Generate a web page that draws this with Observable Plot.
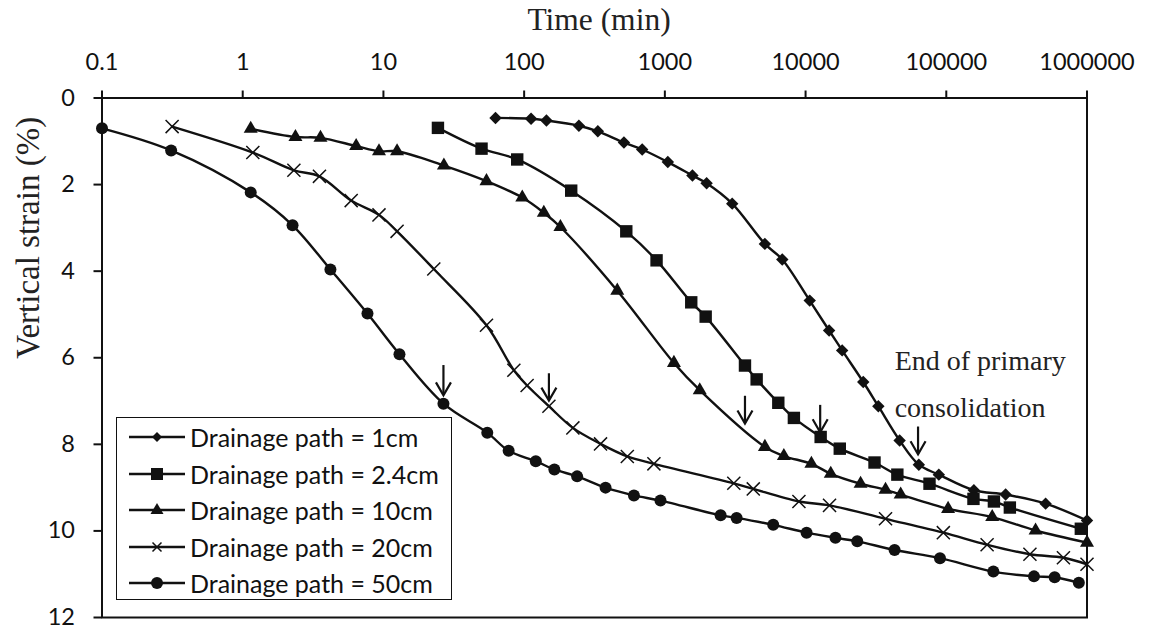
<!DOCTYPE html>
<html><head><meta charset="utf-8">
<script src="https://cdn.jsdelivr.net/npm/d3@7"></script>
<script src="https://cdn.jsdelivr.net/npm/@observablehq/plot@0.6"></script>
<style>
body{margin:0;background:#fff;}
#wrap{position:relative;width:1152px;height:632px;}
#legend{position:absolute;left:116px;top:417px;width:334px;height:181px;border:1.8px solid #111;background:#fff;font-family:Lato,sans-serif;font-size:25px;color:#111;}
.row{position:absolute;left:0;height:36px;display:flex;align-items:center;white-space:nowrap;}
.row svg{margin-left:12px;margin-right:5px;}
</style></head>
<body><div id="wrap"></div>
<script>
// ---- data ----
const seriesNames = ["Drainage path = 1cm", "Drainage path = 2.4cm", "Drainage path = 10cm", "Drainage path = 20cm", "Drainage path = 50cm"];

const time1 = [62.6, 112, 144, 245, 334, 512, 690, 1050, 1570, 1980, 3010, 5140, 6830, 10700, 14700, 18200, 25700, 32900, 46600, 63800, 88500, 157000, 264000, 508000, 1000000];
const strain1 = [0.46, 0.48, 0.52, 0.64, 0.77, 1.03, 1.19, 1.48, 1.79, 1.97, 2.44, 3.37, 3.73, 4.68, 5.37, 5.83, 6.56, 7.12, 7.91, 8.47, 8.70, 9.06, 9.16, 9.37, 9.76];

const time24 = [24.4, 49.8, 89.3, 216, 532, 873, 1540, 1950, 3710, 4490, 6400, 8260, 12800, 17500, 30900, 44900, 76000, 156000, 218000, 283000, 904000];
const strain24 = [0.69, 1.17, 1.42, 2.14, 3.08, 3.75, 4.72, 5.05, 6.18, 6.50, 7.04, 7.39, 7.83, 8.10, 8.42, 8.70, 8.91, 9.26, 9.32, 9.46, 9.95];

const time10 = [1.14, 2.37, 3.57, 6.4, 9.3, 12.5, 26.9, 54, 97, 138, 181, 459, 1160, 1770, 5140, 7010, 11000, 15100, 24600, 37000, 47400, 103000, 212000, 431000, 1000000];
const strain10 = [0.71, 0.90, 0.92, 1.11, 1.23, 1.23, 1.56, 1.92, 2.30, 2.65, 2.98, 4.45, 6.12, 6.75, 8.06, 8.27, 8.45, 8.68, 8.91, 9.05, 9.16, 9.49, 9.68, 9.99, 10.27];

const time20 = [0.315, 1.18, 2.31, 3.51, 5.9, 9.3, 12.5, 22.8, 54, 84.5, 105, 150, 222, 349, 541, 836, 3090, 4250, 8970, 14800, 37000, 95300, 195000, 393000, 680000, 1000000];
const strain20 = [0.66, 1.26, 1.67, 1.81, 2.37, 2.70, 3.08, 3.95, 5.25, 6.29, 6.64, 7.12, 7.62, 7.99, 8.28, 8.45, 8.90, 9.03, 9.32, 9.41, 9.72, 10.04, 10.32, 10.54, 10.62, 10.77];

const time50 = [0.1, 0.31, 1.14, 2.26, 4.2, 7.7, 13.0, 26.7, 54.7, 77.6, 121, 164, 238, 379, 603, 931, 2490, 3236, 5890, 10170, 16300, 23300, 42900, 90200, 216000, 420000, 589000, 875000];
const strain50 = [0.70, 1.21, 2.18, 2.94, 3.96, 4.98, 5.92, 7.06, 7.73, 8.15, 8.39, 8.58, 8.74, 9.00, 9.18, 9.30, 9.64, 9.70, 9.86, 10.04, 10.16, 10.24, 10.44, 10.63, 10.94, 11.05, 11.07, 11.20];

const xTicks = [0.1, 1, 10, 100, 1000, 10000, 100000, 1000000];
const yTicks = [0, 2, 4, 6, 8, 10, 12];

// end-of-primary-consolidation arrows
const arrowTime = [26.7, 150, 3710, 12700, 63000];
const arrowTop = [6.18, 6.37, 6.89, 7.10, 7.60];
const arrowTip = [6.87, 6.99, 7.52, 7.72, 8.23];

const noteText = ["End of primary", "consolidation"];
const noteTime = [42950, 42950];
const noteStrain = [6.29, 7.36];

// ---- build tables ----
const seriesX = [time1, time24, time10, time20, time50];
const seriesY = [strain1, strain24, strain10, strain20, strain50];
const rows = [];
seriesNames.forEach((name, i) => seriesX[i].forEach((t, j) => rows.push({series: name, time: t, strain: seriesY[i][j]})));
const arrows = arrowTime.map((t, i) => ({time: t, top: arrowTop[i], tip: arrowTip[i]}));
const notes = noteText.map((s, i) => ({text: s, time: noteTime[i], strain: noteStrain[i]}));

const ink = "#111";
const vHead = {draw(ctx) { ctx.moveTo(-7.5, -13); ctx.lineTo(0, 0); ctx.lineTo(7.5, -13); }};
const symbolSpec = [
  {symbol: "diamond2", r: 5.6, fill: ink, stroke: "none"},
  {symbol: "square", r: 7, fill: ink, stroke: "none"},
  {symbol: "triangle", r: 5.2, fill: ink, stroke: "none"},
  {symbol: "times", r: 6, fill: "none", stroke: ink, strokeWidth: 1.5},
  {symbol: "circle", r: 6, fill: ink, stroke: "none"}
];

const dotMarks = seriesNames.map((name, i) =>
  Plot.dot(rows.filter(d => d.series === name), {x: "time", y: "strain", ...symbolSpec[i]}));

const chart = Plot.plot({
  width: 1152, height: 632,
  marginLeft: 101.5, marginRight: 65.5, marginTop: 97.5, marginBottom: 15,
  x: {type: "log", domain: [0.1, 1000000]},
  y: {domain: [0, 12], reverse: true},
  style: {fontFamily: "Lato, sans-serif", fontSize: "23.5px", color: ink, background: "white", overflow: "visible"},
  marks: [
    Plot.frame({stroke: ink, strokeWidth: 2}),
    Plot.axisX(xTicks, {anchor: "top", tickSize: 8, tickPadding: 20, tickFormat: d => String(d), label: null, fontSize: 23.5, strokeWidth: 2}),
    Plot.axisY(yTicks, {anchor: "left", tickSize: 8, tickPadding: 19, label: null, fontSize: 23.5, strokeWidth: 2}),
    Plot.line(rows, {x: "time", y: "strain", z: "series", stroke: ink, strokeWidth: 2.4, curve: "catmull-rom"}),
    ...dotMarks,
    Plot.ruleX(arrows, {x: "time", y1: "top", y2: "tip", stroke: ink, strokeWidth: 2.2}),
    Plot.dot(arrows, {x: "time", y: "tip", symbol: vHead, r: 5, fill: "none", stroke: ink, strokeWidth: 2.2}),
    Plot.text(notes, {x: "time", y: "strain", text: "text", textAnchor: "start", lineAnchor: "bottom", fontFamily: "'Liberation Serif', serif", fontSize: 28, fill: "#222"}),
    Plot.text(["Time (min)"], {frameAnchor: "top", dx: 4.5, dy: -68, lineAnchor: "bottom", fontFamily: "'Liberation Serif', serif", fontSize: 31.5, fill: "#222"}),
    Plot.text(["Vertical strain (%)"], {frameAnchor: "left", dx: -63.5, dy: 1, rotate: -90, lineAnchor: "bottom", fontFamily: "'Liberation Serif', serif", fontSize: 33, fill: "#222"})
  ]
});
const wrap = document.getElementById("wrap");
wrap.appendChild(chart);

// ---- legend (HTML overlay) ----
const legend = document.createElement("div");
legend.id = "legend";
const iconPaths = [
  `<path d="M28 5 L33 10 L28 15 L23 10 Z" fill="${ink}"/>`,
  `<rect x="22" y="4" width="12" height="12" fill="${ink}"/>`,
  `<path d="M28 3 L34.5 14 L21.5 14 Z" fill="${ink}"/>`,
  `<path d="M23.5 5.5 L32.5 14.5 M32.5 5.5 L23.5 14.5" stroke="${ink}" stroke-width="1.5"/>`,
  `<circle cx="28" cy="10" r="6" fill="${ink}"/>`
];
seriesNames.forEach((name, i) => {
  const row = document.createElement("div");
  row.className = "row";
  row.style.top = (1 + i * 36.6) + "px";
  row.innerHTML = `<svg width="56" height="20" viewBox="0 0 56 20"><line x1="0" y1="10" x2="56" y2="10" stroke="${ink}" stroke-width="2.6"/>${iconPaths[i]}</svg><span>${name}</span>`;
  legend.appendChild(row);
});
wrap.appendChild(legend);
</script>
</body></html>
